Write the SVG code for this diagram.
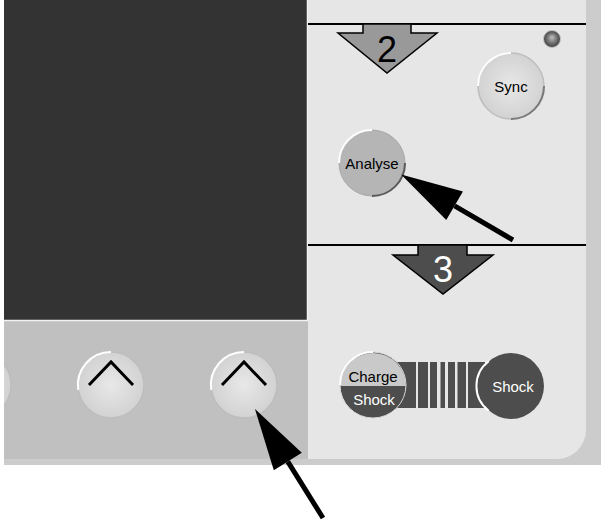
<svg xmlns="http://www.w3.org/2000/svg" width="601" height="523" viewBox="0 0 601 523">
<defs>
<style>
.lbl{font-family:"Liberation Sans",Arial,sans-serif;font-size:15px;text-anchor:middle}
.num{font-family:"Liberation Sans",Arial,sans-serif;font-size:36px;text-anchor:middle}
.sep{stroke:#000;stroke-width:2;fill:none}
.hi{fill:none;stroke:#ffffff;stroke-width:2}
.lo{fill:none;stroke:#7a7a7a;stroke-width:2}
.chev{fill:none;stroke:#000;stroke-width:3}
.ptr{stroke:#000;stroke-width:5;fill:none;marker-end:url(#head)}
.greybtn{fill:url(#btnGrad);stroke:#bdbdbd;stroke-width:1.5}
</style>
<radialGradient id="btnGrad" cx="0.5" cy="0.5" r="0.5">
<stop offset="0" stop-color="#e8e8e8"/>
<stop offset="1" stop-color="#d2d2d2"/>
</radialGradient>
<radialGradient id="ledGrad" cx="0.5" cy="0.5" r="0.5" fx="0.5" fy="0.4">
<stop offset="0" stop-color="#c0c0c0"/>
<stop offset="0.5" stop-color="#7d7d7d"/>
<stop offset="1" stop-color="#3e3e3e"/>
</radialGradient>
<clipPath id="stripClip"><rect x="4" y="320" width="304" height="140"/></clipPath>
<marker id="head" markerUnits="userSpaceOnUse" viewBox="0 -17 62 34" markerWidth="62" markerHeight="34" refX="0" refY="0" orient="auto" overflow="visible">
<path d="M62,0 L0,-16.5 L0,16.5 Z" fill="#000"/>
</marker>
</defs>

<g id="housing">
<rect x="4" y="0" width="597" height="465" fill="#cccccc"/>
<path d="M308,0 H586 V430 A29,29 0 0 1 557,459 H308 Z" fill="#e6e6e6"/>
<rect x="4" y="320" width="304" height="139" fill="#c0c0c0"/>
<rect x="4" y="0" width="303" height="320" fill="#333333"/>
<path d="M4,320.5 H307.5 V0" fill="none" stroke="#f2f2f2" stroke-width="1.5"/>
<line class="sep" x1="308" y1="24" x2="586" y2="24"/>
<line class="sep" x1="308" y1="245" x2="586" y2="245"/>
</g>

<g id="step2">
<polygon points="363,24 363,33 338,33 387,73 437,33 411,33 411,24" fill="#999999" stroke="#000" stroke-width="1.5"/>
<text class="num" x="387" y="62" fill="#000">2</text>
</g>

<g id="step3">
<polygon points="418,245 418,255 393,255 443,294 493,255 467,255 467,245" fill="#4d4d4d" stroke="#000" stroke-width="1.5"/>
<text class="num" x="443" y="282" fill="#ffffff">3</text>
</g>

<g id="led">
<circle cx="552" cy="39" r="8.5" fill="url(#ledGrad)" stroke="#c4c4c4" stroke-width="1"/>
</g>

<g id="sync">
<circle class="greybtn" cx="511" cy="86" r="33"/>
<path class="hi" d="M478,86 A33,33 0 0 1 511,53"/>
<path class="lo" d="M544,86 A33,33 0 0 1 511,119"/>
<text class="lbl" x="511" y="92" fill="#000">Sync</text>
</g>

<g id="analyse">
<circle cx="372" cy="163" r="33" fill="#b5b5b5" stroke="#a8a8a8" stroke-width="1"/>
<path class="hi" d="M339,163 A33,33 0 0 1 372,130"/>
<path d="M405,163 A33,33 0 0 1 372,196" fill="none" stroke="#5a5a5a" stroke-width="2"/>
<text class="lbl" x="372" y="169" fill="#000">Analyse</text>
</g>

<g id="charge-bar">
<rect x="395" y="362" width="90" height="46" fill="#4d4d4d"/>
<g fill="#e6e6e6">
<rect x="416" y="362" width="2" height="46"/>
<rect x="428" y="362" width="2" height="46"/>
<rect x="437" y="362" width="3.5" height="46"/>
<rect x="445" y="362" width="3" height="46"/>
<rect x="455" y="362" width="2.5" height="46"/>
<rect x="466" y="362" width="2" height="46"/>
</g>
</g>

<g id="charge-shock">
<circle cx="373" cy="385" r="33" fill="#4d4d4d" stroke="#d8d8d8" stroke-width="1"/>
<path d="M340,386 A33,33 0 0 1 406,386 Z" fill="#c9c9c9"/>
<path class="hi" d="M340,385 A33,33 0 0 1 373,352"/>
<text class="lbl" x="373" y="382" fill="#000">Charge</text>
<text class="lbl" x="374" y="405" fill="#ffffff">Shock</text>
</g>

<g id="shock">
<circle cx="511" cy="386" r="33" fill="#4d4d4d"/>
<path d="M488.7,410.7 A31,31 0 0 1 488.7,361.3" fill="none" stroke="#ffffff" stroke-width="2"/>
<text class="lbl" x="513" y="392" fill="#ffffff">Shock</text>
</g>

<g id="softkey0" clip-path="url(#stripClip)">
<circle class="greybtn" cx="-22" cy="385" r="33"/>
</g>

<g id="softkey1">
<circle class="greybtn" cx="111" cy="385" r="33"/>
<path class="hi" d="M78.3,390 A33,33 0 0 1 111,352"/>
<polyline class="chev" points="89,385 111,362 133,385"/>
</g>

<g id="softkey2">
<circle class="greybtn" cx="244" cy="385" r="33"/>
<path class="hi" d="M211.3,390 A33,33 0 0 1 244,352"/>
<polyline class="chev" points="222,385 244,362 266,385"/>
</g>

<g id="connectors">
<line class="ptr" x1="513" y1="240" x2="454.6" y2="205.8"/>
<line class="ptr" x1="323" y1="518" x2="287.8" y2="461.6"/>
</g>
</svg>
